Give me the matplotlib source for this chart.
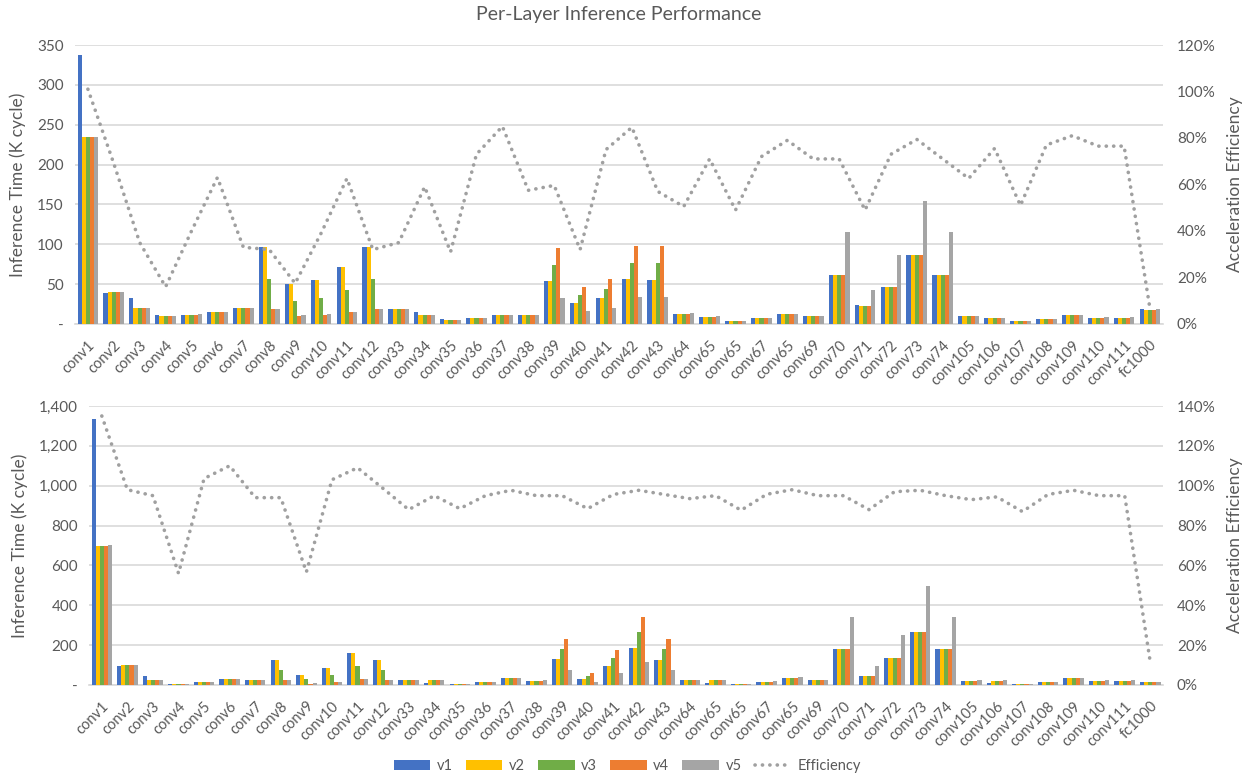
import matplotlib
matplotlib.use("Agg")
import matplotlib.pyplot as plt
import numpy as np
from matplotlib.ticker import FuncFormatter, MultipleLocator
from matplotlib.lines import Line2D
from matplotlib.patches import Patch

plt.rcParams['font.family'] = ['Lato', 'DejaVu Sans']

layers = ["conv1", "conv2", "conv3", "conv4", "conv5", "conv6", "conv7", "conv8", "conv9", "conv10",
          "conv11", "conv12", "conv33", "conv34", "conv35", "conv36", "conv37", "conv38", "conv39", "conv40",
          "conv41", "conv42", "conv43", "conv64", "conv65", "conv65", "conv67", "conv65", "conv69", "conv70",
          "conv71", "conv72", "conv73", "conv74", "conv105", "conv106", "conv107", "conv108", "conv109", "conv110",
          "conv111", "fc1000"]

# ---- top panel (K cycle) ----
v1_top = [338, 39, 33, 11, 11.7, 14.6, 20, 96, 50, 55, 72, 97, 18.4, 15.5, 6, 7.5, 11.7, 11.7, 53.5, 26.8,
          32.6, 56, 55, 13, 9.2, 3.8, 7, 12, 10, 62, 23.4, 46, 86, 62, 10, 7.5, 4, 6, 11, 8, 8, 18.4]
v2_top = [234, 40, 20, 10.5, 11.7, 14.6, 20, 96, 50, 55, 72, 97, 18.4, 11.3, 5.5, 7.5, 11.7, 11.7, 53.5, 26.8,
          32.6, 56, 55, 13, 9.2, 3.8, 7, 12, 10, 62, 22.6, 46, 86, 62, 10, 7.5, 4, 6, 11, 8, 8, 17.5]
v3_top = [234, 40, 20, 10.5, 11.7, 14.6, 20, 57, 29, 33, 43, 57, 18.4, 11.3, 5.5, 7.5, 11.7, 11.7, 73.6, 36,
          44, 76.5, 76.5, 13, 9.2, 3.8, 7, 12, 10, 62, 22.6, 46, 86, 62, 10, 7.5, 4, 6, 11, 8, 8, 17.5]
v4_top = [234, 40, 20, 10.5, 11.7, 14.6, 20, 19, 10.5, 11.6, 14.6, 19, 18.4, 11.3, 5.5, 7.5, 11.7, 11.7, 95, 46.4,
          57, 98, 98, 13, 9.2, 3.8, 7, 12, 10, 61.5, 22.6, 46, 86, 61.5, 10, 7.5, 4, 6, 11, 8, 8, 17.5]
v5_top = [234, 40, 20.5, 10.5, 12, 15.5, 20.5, 19, 11, 12, 14.6, 19, 18.4, 11.5, 5.5, 7.5, 11.7, 11.7, 32.6, 16.3,
          19.6, 34, 33.5, 13.5, 9.5, 4, 7.5, 12, 10, 116, 42.7, 86, 154, 115, 10, 7.8, 4.2, 6.2, 11.2, 8.2, 8.2, 18.4]
eff_top = [101, 69, 35, 16, 40, 63, 33, 32, 17.5, 39, 62.6, 32, 35, 59, 31, 73, 85, 57.5, 59.6, 32,
           75, 84.6, 57, 50.5, 71, 49, 72, 79, 71, 71, 49, 73, 79.4, 71, 62.6, 75.5, 51, 77, 81, 76.5, 76.5, 6.5]

# ---- bottom panel (K cycle) ----
v1_bot = [1335, 94, 45, 5, 13, 30, 25, 126, 49, 84, 161, 126, 25, 12, 5, 13, 35, 22, 131, 32,
          94, 188, 126, 25, 10, 3, 17, 37, 25, 181, 45, 136, 265, 181, 22, 8, 3, 15, 34, 22, 22, 15]
v2_bot = [697, 102, 25, 5, 15, 30, 25, 126, 49, 84, 161, 126, 25, 25, 5, 13, 35, 22, 131, 32,
          94, 188, 126, 25, 25, 3, 17, 37, 25, 181, 45, 136, 265, 181, 22, 22, 3, 15, 34, 22, 22, 15]
v3_bot = [697, 100, 25, 5, 15, 30, 25, 75, 28, 49, 97, 75, 25, 25, 5, 13, 35, 22, 181, 45,
          136, 265, 181, 25, 25, 3, 17, 37, 25, 181, 45, 136, 265, 181, 22, 22, 3, 15, 34, 22, 22, 15]
v4_bot = [697, 100, 25, 5, 15, 30, 25, 25, 5, 13, 28, 25, 25, 25, 5, 13, 35, 22, 233, 60,
          176, 342, 233, 25, 25, 3, 17, 37, 25, 181, 45, 136, 265, 181, 22, 22, 3, 15, 34, 22, 22, 15]
v5_bot = [700, 102, 25, 6, 17, 32, 26, 27, 8, 17, 32, 25, 25, 26, 5, 14, 36, 23, 77, 17,
          59, 116, 77, 26, 26, 4, 18, 38, 26, 340, 94, 253, 496, 340, 23, 23, 4, 16, 36, 23, 23, 16]
eff_bot = [135, 98, 95, 56, 103.6, 110, 94, 94, 56.7, 103, 109, 98.6, 88, 95, 88.5, 95, 97.7, 95, 95, 88.5,
           95.6, 97.7, 95.6, 93.5, 95, 87.7, 95.7, 98, 95, 95, 88, 97, 97.7, 95, 93, 94.4, 87, 95.6, 97.7, 95, 95, 11.4]

series_names = ["v1", "v2", "v3", "v4", "v5"]
colors = ["#4472C4", "#FFC000", "#70AD47", "#ED7D31", "#A5A5A5"]
txt = "#595959"
grid_c = "#D9D9D9"
eff_c = "#A0A0A0"
dot_style = (0, (0.05, 2.0))

fig = plt.figure(figsize=(12.45, 7.76), dpi=100)


def draw_panel(rect, series, eff, ymax, ystep, rmax, ytick_fmt):
    ax = fig.add_axes(rect)
    x = np.arange(len(layers))
    n = len(series)
    w = 0.16
    for i, (vals, c) in enumerate(zip(series, colors)):
        ax.bar(x + (i - (n - 1) / 2) * w, vals, width=w, color=c, zorder=3, linewidth=0)
    ax.set_xlim(-0.5, len(layers) - 0.5)
    ax.set_ylim(0, ymax)
    ax.yaxis.set_major_locator(MultipleLocator(ystep))
    ax.yaxis.set_major_formatter(FuncFormatter(ytick_fmt))
    ax.grid(axis='y', color=grid_c, linewidth=1.2, zorder=0)
    for s in ["top", "right", "left"]:
        ax.spines[s].set_visible(False)
    ax.spines["bottom"].set_color(grid_c)
    ax.spines["bottom"].set_linewidth(1.2)
    ax.set_xticks(x)
    ax.set_xticklabels(layers, rotation=45, ha='right', rotation_mode='anchor',
                       fontsize=10.5, color=txt)
    ax.tick_params(axis='both', length=0)
    ax.tick_params(axis='y', labelsize=11, labelcolor=txt, pad=8)
    ax.tick_params(axis='x', pad=10)
    ax.set_ylabel("Inference Time (K cycle)", fontsize=12.5, color=txt, labelpad=8)

    ax2 = ax.twinx()
    ax2.plot(x, np.array(eff) / 100.0, color=eff_c, linewidth=2.6,
             linestyle=dot_style, dash_capstyle='round', zorder=4)
    ax2.set_ylim(0, rmax)
    ax2.yaxis.set_major_locator(MultipleLocator(0.2))
    ax2.yaxis.set_major_formatter(FuncFormatter(lambda v, p: f"{v*100:.0f}%"))
    for s in ["top", "right", "left", "bottom"]:
        ax2.spines[s].set_visible(False)
    ax2.tick_params(axis='y', length=0, labelsize=11, labelcolor=txt, pad=10)
    ax2.set_ylabel("Acceleration Efficiency", fontsize=12.5, color=txt, labelpad=8)
    return ax, ax2


def fmt_plain(v, p):
    return "-" if v == 0 else f"{v:,.0f}"


draw_panel([0.0602, 0.5825, 0.8739, 0.3595],
           [v1_top, v2_top, v3_top, v4_top, v5_top], eff_top, 350, 50, 1.2, fmt_plain)
draw_panel([0.0715, 0.1173, 0.8627, 0.3595],
           [v1_bot, v2_bot, v3_bot, v4_bot, v5_bot], eff_bot, 1400, 200, 1.4, fmt_plain)

fig.text(0.497, 0.981, "Per-Layer Inference Performance", ha='center', va='center',
         fontsize=14, color=txt)

handles = [Patch(facecolor=c, edgecolor='none', label=n) for c, n in zip(colors, series_names)]
handles.append(Line2D([0], [0], color=eff_c, linewidth=2.6, linestyle=dot_style,
                      dash_capstyle='round', label="Efficiency"))
leg = fig.legend(handles=handles, loc='center', bbox_to_anchor=(0.504, 0.013), ncol=6,
                 frameon=False, fontsize=10.5, handlelength=2.5, handleheight=0.65,
                 columnspacing=0.9, handletextpad=0.45)
for t in leg.get_texts():
    t.set_color(txt)

fig.savefig("out.png", dpi=100)
